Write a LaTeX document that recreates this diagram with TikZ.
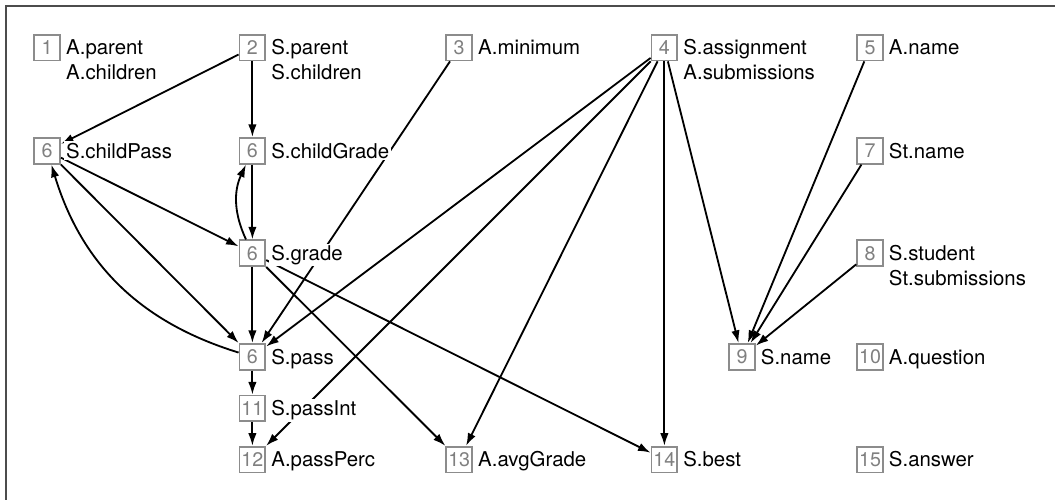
\documentclass[tikz,border=0pt]{standalone}
\usepackage{fontspec}
\usepackage{tikz}
\setmainfont{TeX Gyre Heros}
\definecolor{boxgray}{rgb}{0.55, 0.55, 0.55}
\definecolor{numgray}{rgb}{0.5, 0.5, 0.5}
\definecolor{framegray}{rgb}{0.3, 0.3, 0.3}
\usetikzlibrary{arrows.meta}

\begin{document}
\begin{tikzpicture}[
	num/.style = {draw = boxgray, line width = 1.2pt, minimum size = 18.4pt, inner sep = 0pt, text = numgray, font = \fontsize{14}{14}\selectfont},
	lbl/.style = {anchor = base west, fill = white, inner xsep = 1.5pt, inner ysep = 1pt, align = left, font = \fontsize{14.5}{17.7}\selectfont},
	dep/.style = {-{Latex[length = 9pt, width = 6pt]}, line width = 1.3pt}
	]
			\useasboundingbox (0,0) rectangle (26.375,-12.5);
			\draw[framegray, line width = 1pt] (0.15,-12.5) |- (26.375,-0.15);
			
			% numbered boxes
			\node[num, xshift = 1.18cm, yshift = -1.19cm] (parent){1};
			\node[num, xshift = 6.31cm, yshift = -1.19cm] (sparent){2};
			\node[num, xshift = 11.48cm, yshift = -1.19cm] (minimum){3};
			\node[num, xshift = 16.61cm, yshift = -1.19cm] (assign){4};
			\node[num, xshift = 21.75cm, yshift = -1.19cm] (aname){5};
			\node[num, xshift = 1.18cm, yshift = -3.77cm] (childpass){6};
			\node[num, xshift = 6.31cm, yshift = -3.77cm] (childgrade){6};
			\node[num, xshift = 21.75cm, yshift = -3.77cm] (stname){7};
			\node[num, xshift = 6.31cm, yshift = -6.33cm] (grade){6};
			\node[num, xshift = 21.75cm, yshift = -6.33cm] (student){8};
			\node[num, xshift = 6.31cm, yshift = -8.92cm] (pass){6};
			\node[num, xshift = 18.55cm, yshift = -8.92cm] (sname){9};
			\node[num, xshift = 21.75cm, yshift = -8.92cm] (question){10};
			\node[num, xshift = 6.31cm, yshift = -10.21cm] (passint){11};
			\node[num, xshift = 6.31cm, yshift = -11.49cm] (passperc){12};
			\node[num, xshift = 11.48cm, yshift = -11.49cm] (avggrade){13};
			\node[num, xshift = 16.61cm, yshift = -11.49cm] (best){14};
			\node[num, xshift = 21.75cm, yshift = -11.49cm] (answer){15};
			
			% dependencies
			\draw[dep] (sparent) -- (childpass);
			\draw[dep] (sparent) -- (childgrade);
			\draw[dep] (minimum) -- (pass);
			\draw[dep] (assign) -- (pass);
			\draw[dep] (assign) -- (passperc);
			\draw[dep] (assign) -- (avggrade);
			\draw[dep] (assign) -- (best);
			\draw[dep] (assign) -- (sname);
			\draw[dep] (aname) -- (sname);
			\draw[dep] (stname) -- (sname);
			\draw[dep] (student) -- (sname);
			
			\draw[dep] (childpass) -- (grade);
			\draw[dep] (childpass) -- (pass);
			\draw[dep] (pass) to[bend left = 28] (childpass);
			\draw[dep] (childgrade) -- (grade);
			\draw[dep] (grade) to[bend left = 25] (childgrade);
			\draw[dep] (grade) -- (pass);
			\draw[dep] (grade) -- (avggrade);
			\draw[dep] (grade) -- (best);
			\draw[dep] (pass) -- (passint);
			\draw[dep] (passint) -- (passperc);
			
			% labels (two-line ones sit on their last line)
			\node[lbl] (parent-l) at ([xshift = 2pt, yshift = -22.9pt]parent.east) {A.parent\\A.children};
			\node[lbl] (sparent-l) at ([xshift = 2pt, yshift = -22.9pt]sparent.east) {S.parent\\S.children};
			\node[lbl] (minimum-l) at ([xshift = 2pt, yshift = -5.2pt]minimum.east) {A.minimum};
			\node[lbl] (assign-l) at ([xshift = 2pt, yshift = -22.9pt]assign.east) {S.assignment\\A.submissions};
			\node[lbl] (aname-l) at ([xshift = 2pt, yshift = -5.2pt]aname.east) {A.name};
			\node[lbl] (childpass-l) at ([xshift = 2pt, yshift = -5.2pt]childpass.east) {S.childPass};
			\node[lbl] (childgrade-l) at ([xshift = 2pt, yshift = -5.2pt]childgrade.east) {S.childGrade};
			\node[lbl] (stname-l) at ([xshift = 2pt, yshift = -5.2pt]stname.east) {St.name};
			\node[lbl] (grade-l) at ([xshift = 2pt, yshift = -5.2pt]grade.east) {S.grade};
			\node[lbl] (student-l) at ([xshift = 2pt, yshift = -22.9pt]student.east) {S.student\\St.submissions};
			\node[lbl] (pass-l) at ([xshift = 2pt, yshift = -5.2pt]pass.east) {S.pass};
			\node[lbl] (sname-l) at ([xshift = 2pt, yshift = -5.2pt]sname.east) {S.name};
			\node[lbl] (question-l) at ([xshift = 2pt, yshift = -5.2pt]question.east) {A.question};
			\node[lbl] (passint-l) at ([xshift = 2pt, yshift = -5.2pt]passint.east) {S.passInt};
			\node[lbl] (passperc-l) at ([xshift = 2pt, yshift = -5.2pt]passperc.east) {A.passPerc};
			\node[lbl] (avggrade-l) at ([xshift = 2pt, yshift = -5.2pt]avggrade.east) {A.avgGrade};
			\node[lbl] (best-l) at ([xshift = 2pt, yshift = -5.2pt]best.east) {S.best};
			\node[lbl] (answer-l) at ([xshift = 2pt, yshift = -5.2pt]answer.east) {S.answer};
			
			\end{tikzpicture}
\end{document}
